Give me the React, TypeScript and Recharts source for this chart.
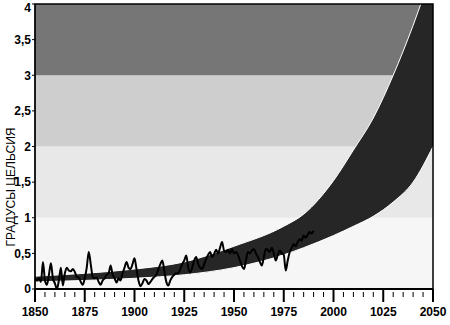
import { ComposedChart, Area, Line, XAxis, YAxis, ReferenceArea } from "recharts";

// projection envelope (lower / upper edge), degrees
const bandYears = [1850, 1875, 1900, 1925, 1950, 1975, 1985, 2000, 2010, 2020, 2030, 2040, 2050];
const bandLower = [0.1, 0.12, 0.15, 0.2, 0.3, 0.48, 0.58, 0.75, 0.88, 1.02, 1.22, 1.5, 2.0];
const bandUpper = [0.18, 0.22, 0.28, 0.38, 0.6, 0.88, 1.05, 1.52, 1.95, 2.4, 3.0, 3.7, 4.5];

// observed yearly anomaly, 1850..1990
const obsStart = 1850;
const obsValues = [
  0.14, 0.12, 0.15, 0.1, 0.38, 0.12, 0.06, 0.2, 0.36, 0.15,
  0.08, 0.0, 0.12, 0.3, 0.05, 0.22, 0.3, 0.26, 0.25, 0.28,
  0.24, 0.17, 0.16, 0.1, 0.06, 0.15, 0.3, 0.52, 0.35, 0.17,
  0.15, 0.16, 0.1, 0.06, 0.12, 0.15, 0.2, 0.22, 0.33, 0.2,
  0.15, 0.09, 0.15, 0.12, 0.22, 0.3, 0.38, 0.3, 0.28, 0.35,
  0.43, 0.28, 0.12, 0.04, 0.08, 0.14, 0.12, 0.07, 0.1, 0.14,
  0.17, 0.2, 0.28, 0.35, 0.4, 0.25, 0.1, 0.05, 0.12, 0.17,
  0.2, 0.22, 0.22, 0.28, 0.35, 0.4, 0.47, 0.3, 0.23, 0.3,
  0.4, 0.45, 0.35, 0.3, 0.28, 0.35, 0.42, 0.48, 0.52, 0.45,
  0.49, 0.55, 0.5, 0.58, 0.66, 0.54, 0.52, 0.55, 0.5, 0.56,
  0.5, 0.52, 0.48, 0.4, 0.32, 0.28, 0.4, 0.52, 0.5, 0.54,
  0.56, 0.5, 0.45, 0.38, 0.33, 0.45, 0.56, 0.55, 0.52, 0.58,
  0.5, 0.4, 0.48, 0.54, 0.5, 0.48, 0.26, 0.4, 0.52, 0.58,
  0.63, 0.6, 0.66, 0.7, 0.68, 0.75, 0.72, 0.76, 0.8, 0.78,
  0.82,
];

const xTicks = [1850, 1875, 1900, 1925, 1950, 1975, 2000, 2025, 2050];
const xLabels = ["1850", "1875", "1900", "1925", "1950", "1975", "2000", "1025", "2050"];
const minorTicks = Array.from({ length: 41 }, (_, i) => 1850 + i * 5);
const yTicks = [0, 0.5, 1, 1.5, 2, 2.5, 3, 3.5, 4];

const zones = [
  { y1: 0, y2: 1, fill: "#f6f6f6" },
  { y1: 1, y2: 2, fill: "#e8e8e8" },
  { y1: 2, y2: 3, fill: "#cecece" },
  { y1: 3, y2: 4, fill: "#767676" },
];

const bandData = bandYears.map((year, i) => ({ year, range: [bandLower[i], bandUpper[i]] }));
const obsData = obsValues.map((v, i) => ({ year: obsStart + i, t: v }));

const font = "'Liberation Sans', Arial, sans-serif";

const XTick = (props: any) => {
  const { x, y, payload } = props;
  const idx = xTicks.indexOf(payload.value);
  const major = idx >= 0;
  return (
    <g>
      <line x1={x} x2={x} y1={y + (major ? 0 : 3)} y2={y + (major ? 13 : 8)} stroke="#000" strokeWidth={major ? 2 : 1} />
      {major && (
        <text x={x} y={y + 27} textAnchor="middle" fontFamily={font} fontWeight="bold" fontSize={12} fill="#000">
          {xLabels[idx]}
        </text>
      )}
    </g>
  );
};

const YTitle = () => (
  <text x={15} y={187} transform="rotate(-90 15 187)" textAnchor="middle" fontFamily={font} fontSize={12} fill="#000">
    ГРАДУСЫ ЦЕЛЬСИЯ
  </text>
);

export default function App() {
  return (
    <div style={{ position: "absolute", left: 0, top: 0, background: "#fff" }}>
      <ComposedChart width={450} height={325} margin={{ top: 4, right: 17, left: 0, bottom: 0 }}>
        <XAxis
          dataKey="year"
          type="number"
          domain={[1850, 2050]}
          ticks={minorTicks}
          interval={0}
          tick={<XTick />}
          tickLine={false}
          tickSize={0}
          tickMargin={0}
          height={36}
          axisLine={{ stroke: "#000", strokeWidth: 2 }}
        />
        <YAxis
          type="number"
          domain={[0, 4]}
          allowDataOverflow
          ticks={yTicks}
          width={35}
          tickFormatter={(v: number) => String(v).replace(".", ",")}
          tick={{ fontFamily: font, fontWeight: "bold", fontSize: 12, fill: "#000" }}
          tickSize={3}
          tickMargin={1}
          tickLine={{ stroke: "#000" }}
          axisLine={{ stroke: "#000" }}
          label={{ content: () => <YTitle /> }}
        />
        {zones.map((z) => (
          <ReferenceArea key={z.y1} x1={1850} x2={2050} y1={z.y1} y2={z.y2} fill={z.fill} fillOpacity={1} stroke="none" />
        ))}
        <Area
          data={bandData}
          dataKey="range"
          type="monotone"
          fill="#262626"
          fillOpacity={1}
          stroke="#fff"
          strokeWidth={1}
          isAnimationActive={false}
        />
        <Line
          data={obsData}
          dataKey="t"
          type="monotone"
          stroke="#000"
          strokeWidth={2}
          dot={false}
          isAnimationActive={false}
        />
        <ReferenceArea x1={1850} x2={2050} y1={0} y2={4} fill="none" stroke="#000" strokeWidth={1.5} />
      </ComposedChart>
    </div>
  );
}
